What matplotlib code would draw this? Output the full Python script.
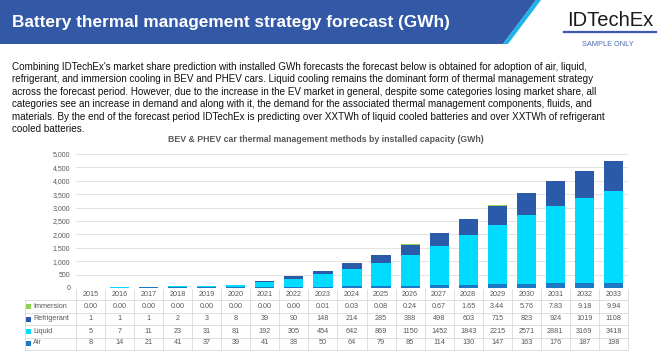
import numpy as np
import matplotlib.pyplot as plt
import matplotlib.transforms as mtransforms
from matplotlib.patches import Polygon, Rectangle
from matplotlib.lines import Line2D

plt.rcParams['font.family'] = ['Liberation Sans', 'DejaVu Sans']

years = [str(y) for y in range(2015, 2034)]
immersion = [0.00, 0.00, 0.00, 0.00, 0.00, 0.00, 0.00, 0.00, 0.01, 0.03,
             0.08, 0.24, 0.67, 1.65, 3.44, 5.76, 7.83, 9.18, 9.94]
refrigerant = [1, 1, 1, 2, 3, 8, 39, 90, 148, 214, 285, 388, 498, 603, 715,
               823, 924, 1019, 1108]
liquid = [5, 7, 11, 23, 31, 81, 192, 305, 454, 642, 869, 1150, 1452, 1843,
          2215, 2571, 2881, 3169, 3418]
air = [8, 14, 21, 41, 37, 39, 41, 38, 50, 64, 79, 85, 114, 130, 147, 163,
       176, 187, 198]

title = "Battery thermal management strategy forecast (GWh)"
chart_title = "BEV & PHEV car thermal management methods by installed capacity (GWh)"
paragraph = [
    "Combining IDTechEx's market share prediction with installed GWh forecasts the forecast below is obtained for adoption of air, liquid,",
    "refrigerant, and immersion cooling in BEV and PHEV cars. Liquid cooling remains the dominant form of thermal management strategy",
    "across the forecast period. However, due to the increase in the EV market in general, despite some categories losing market share, all",
    "categories see an increase in demand and along with it, the demand for the associated thermal management components, fluids, and",
    "materials. By the end of the forecast period IDTechEx is predicting over XXTWh of liquid cooled batteries and over XXTWh of refrigerant",
    "cooled batteries.",
]

c_imm = '#92d050'
c_ref = '#2b5ba8'
c_liq = '#00dbff'
c_air = '#1b78c2'
grey = '#595959'

W, H = 662, 353
fig = plt.figure(figsize=(W / 100, H / 100), dpi=100)

# background axes in pixel units for the slide decoration
bg = fig.add_axes([0, 0, 1, 1])
bg.set_xlim(0, W)
bg.set_ylim(H, 0)
bg.axis('off')

bg.add_patch(Polygon([[0, 0], [536, 0], [503, 44], [0, 44]], closed=True,
                     color='#3258a6', lw=0))
bg.add_patch(Polygon([[536, 0], [541, 0], [508, 44], [503, 44]], closed=True,
                     color='#1cb4ea', lw=0))
bg.text(12, 22, title, color='white', fontsize=12.4, fontweight='bold',
        va='center', ha='left')

bg.text(610, 20, "IDTechEx", color='#1a1a1a', fontsize=14.5, va='center',
        ha='center')
bg.add_line(Line2D([564, 656], [32, 32], color='#3c5bb0', lw=1.6))
bg.text(608, 45, "SAMPLE ONLY", color='#4a6ab0', fontsize=5.3, va='center',
        ha='center')

for i, line in enumerate(paragraph):
    bg.text(12, 67 + i * 12.4, line, color='#111111', fontsize=7.1,
            va='center', ha='left')

bg.text(326, 140, chart_title, color=grey, fontsize=6.3, fontweight='bold',
        va='center', ha='center')

# ---- chart ----
left, right, top, bottom = 76, 628, 154, 288
ax = fig.add_axes([left / W, (H - bottom) / H, (right - left) / W,
                   (bottom - top) / H])
x = np.arange(len(years))
bw = 0.66
b1 = np.array(air)
b2 = b1 + np.array(liquid)
b3 = b2 + np.array(refrigerant)
ax.bar(x, air, bw, color=c_air, zorder=3)
ax.bar(x, liquid, bw, bottom=b1, color=c_liq, zorder=3)
ax.bar(x, refrigerant, bw, bottom=b2, color=c_ref, zorder=3)
ax.bar(x, immersion, bw, bottom=b3, color=c_imm, zorder=3)

ax.set_xlim(-0.5, len(years) - 0.5)
ax.set_ylim(0, 5000)
ax.set_yticks(np.arange(0, 5001, 500))
ax.set_yticklabels([f"{v:,}" for v in range(0, 5001, 500)])
ax.tick_params(axis='y', length=0, labelsize=5, labelcolor=grey, pad=4)
ax.set_xticks([])
ax.grid(axis='y', color='#dedede', lw=0.6, zorder=0)
for s in ax.spines.values():
    s.set_visible(False)

# logo in the plot
bg.text(96, 164, "IDTechEx", color='#111111', fontsize=10.5, va='center',
        ha='left')
bg.add_line(Line2D([96, 157], [173, 173], color='#3f51a0', lw=1))
bg.add_patch(Rectangle((162, 157), 55, 17, color='#3f51a0', lw=0))
bg.text(189.5, 165.5, "Research", color='white', fontsize=8, va='center',
        ha='center')

# ---- data table under the chart ----
tr = mtransforms.blended_transform_factory(ax.transData, bg.transData)
row_y = [306, 319, 331.5, 343]
bounds_y = [289, 300, 312.5, 325, 337.5, 349.5]
rows = [("Immersion", immersion, c_imm, True),
        ("Refrigerant", refrigerant, c_ref, False),
        ("Liquid", liquid, c_liq, False),
        ("Air", air, c_air, False)]

for i, yr in enumerate(years):
    ax.text(i, 295, yr, transform=tr, ha='center', va='center', fontsize=5.2,
            color=grey, clip_on=False)
for (name, vals, col, dec), ry in zip(rows, row_y):
    for i, v in enumerate(vals):
        s = f"{v:.2f}" if dec else f"{v:.0f}"
        ax.text(i, ry, s, transform=tr, ha='center', va='center', fontsize=5.2,
                color=grey, clip_on=False)
    bg.add_patch(Rectangle((26, ry - 2.5), 5, 5, color=col, lw=0))
    bg.text(33, ry, name, fontsize=5.2, color=grey, va='center', ha='left')

lc = '#d9d9d9'
for by in bounds_y[1:]:
    bg.add_line(Line2D([25, right], [by, by], color=lc, lw=0.6))
for xb in np.arange(-0.5, len(years), 1):
    ax.add_line(Line2D([xb, xb], [bounds_y[0], bounds_y[-1]], transform=tr,
                       color=lc, lw=0.6, clip_on=False))
bg.add_line(Line2D([25, 25], [bounds_y[1], bounds_y[-1]], color=lc, lw=0.6))

fig.savefig('out.png', dpi=100)
